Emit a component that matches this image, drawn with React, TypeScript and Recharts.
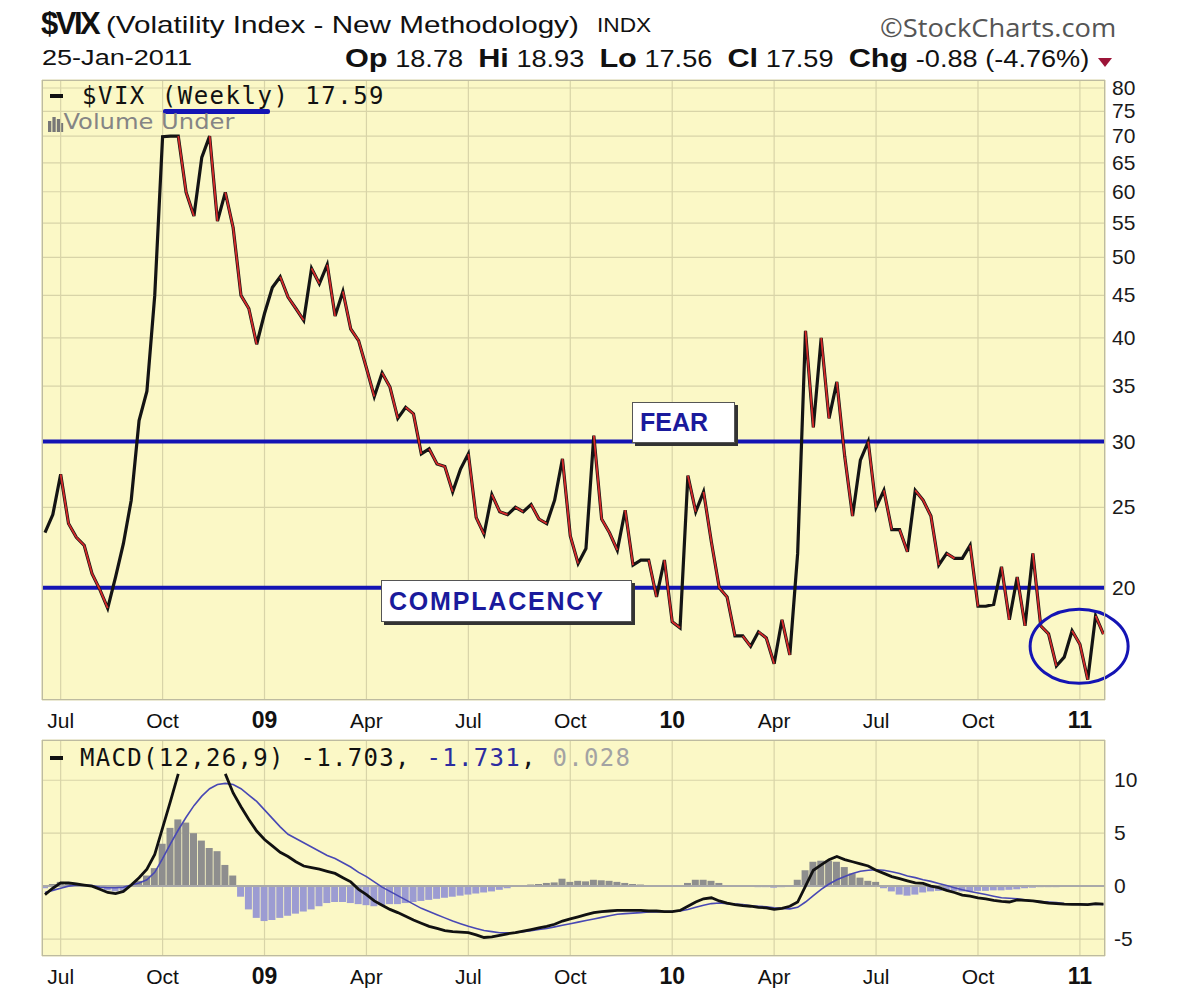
import React from 'react';
import {
  ComposedChart,
  Line,
  Bar,
  Cell,
  XAxis,
  YAxis,
  CartesianGrid,
  ReferenceLine,
  ReferenceDot,
} from 'recharts';

// weekly closes, week ending 27-Jun-2008 .. 25-Jan-2011 (index 0..135)
const vixClose = [
  23.3, 24.5, 27.4, 23.9, 23.0, 22.5, 20.8, 19.9, 18.9, 20.6,
  22.6, 25.5, 31.8, 34.5, 45.0, 69.9, 70.0, 70.0, 59.9, 56.1,
  66.0, 70.0, 55.3, 59.9, 54.3, 45.0, 43.4, 39.3, 42.8, 46.0,
  47.4, 44.8, 43.4, 42.0, 48.5, 46.5, 49.0, 42.5, 45.5, 41.0,
  39.7, 36.8, 34.0, 36.3, 34.9, 32.0, 33.0, 32.4, 29.0, 29.4,
  28.2, 28.0, 26.1, 27.8, 29.0, 24.3, 23.2, 25.9, 24.7, 24.5,
  25.0, 24.7, 25.2, 24.2, 23.9, 25.5, 28.6, 23.1, 21.4, 22.3,
  30.5, 24.2, 23.3, 22.2, 24.8, 21.3, 21.6, 21.6, 19.5, 21.6,
  18.2, 17.9, 27.3, 24.7, 26.1, 22.7, 20.0, 19.5, 17.5, 17.5,
  17.0, 17.7, 17.4, 16.2, 18.3, 16.6, 22.0, 40.8, 31.2, 40.0,
  32.0, 35.4, 28.8, 24.4, 28.5, 30.0, 25.0, 26.2, 23.5, 23.5,
  22.1, 26.2, 25.5, 24.4, 21.3, 22.0, 21.7, 21.7, 22.5, 19.0,
  19.0, 19.1, 21.2, 18.3, 20.6, 18.0, 22.0, 18.0, 17.6, 16.1,
  16.5, 17.75, 17.1, 15.5, 18.5, 17.59,
];

// MACD(12,26,9) line; null where it runs behind the legend at the top
const macdLine = [
  -0.8, -0.2, 0.3, 0.3, 0.2, 0.1, 0.0, -0.3, -0.6, -0.7,
  -0.5, 0.1, 0.8, 1.6, 3.0, 5.5, 8.0, 10.6, null, null,
  null, null, null, 10.6, 8.8, 7.5, 6.3, 5.2, 4.4, 3.8,
  3.2, 2.8, 2.3, 1.9, 1.75, 1.6, 1.4, 1.2, 0.8, 0.4,
  -0.3, -0.8, -1.4, -1.8, -2.2, -2.5, -2.85, -3.2, -3.5, -3.8,
  -4.0, -4.2, -4.3, -4.35, -4.4, -4.6, -4.85, -4.8, -4.65, -4.5,
  -4.4, -4.25, -4.1, -3.95, -3.8, -3.6, -3.3, -3.1, -2.9, -2.7,
  -2.5, -2.4, -2.35, -2.3, -2.3, -2.3, -2.3, -2.35, -2.35, -2.4,
  -2.4, -2.3, -1.9, -1.5, -1.2, -1.1, -1.4, -1.6, -1.75, -1.85,
  -1.9, -2.0, -2.05, -2.2, -2.1, -1.9, -1.5, 0.0, 1.5, 2.0,
  2.5, 2.8, 2.5, 2.3, 2.1, 1.9, 1.5, 1.2, 0.9, 0.7,
  0.5, 0.3, 0.25, 0.0, -0.15, -0.4, -0.6, -0.85, -0.95, -1.1,
  -1.2, -1.35, -1.45, -1.5, -1.3, -1.35, -1.4, -1.5, -1.6, -1.65,
  -1.7, -1.72, -1.72, -1.75, -1.65, -1.7,
];

const signalLine = [
  -0.6, -0.4, -0.2, 0.0, 0.1, 0.1, 0.05, -0.1, -0.15, -0.15,
  -0.1, 0.1, 0.3, 0.6, 1.3, 2.6, 4.0, 5.3, 6.5, 7.6,
  8.5, 9.2, 9.6, 9.7, 9.6, 9.2, 8.6, 8.0, 7.2, 6.4,
  5.6, 4.9, 4.5, 4.1, 3.7, 3.3, 2.9, 2.6, 2.2, 1.8,
  1.3, 0.9, 0.4, -0.1, -0.5, -0.9, -1.3, -1.7, -2.1, -2.4,
  -2.7, -3.0, -3.3, -3.55, -3.8, -4.0, -4.2, -4.3, -4.4, -4.4,
  -4.4, -4.3, -4.2, -4.1, -4.0, -3.85, -3.7, -3.55, -3.4, -3.25,
  -3.1, -2.95, -2.8, -2.65, -2.6, -2.55, -2.5, -2.45, -2.45, -2.4,
  -2.4, -2.35, -2.2, -2.0, -1.8, -1.65, -1.6, -1.65, -1.7, -1.75,
  -1.85, -1.9, -1.95, -2.05, -2.1, -2.15, -2.0, -1.5, -0.9, -0.3,
  0.2, 0.6, 0.9, 1.2, 1.4, 1.5, 1.55, 1.5, 1.35, 1.2,
  0.95, 0.8, 0.6, 0.45, 0.25, 0.05, -0.15, -0.35, -0.5, -0.65,
  -0.8, -0.95, -1.1, -1.15, -1.2, -1.3, -1.4, -1.45, -1.5, -1.55,
  -1.65, -1.7, -1.72, -1.74, -1.73, -1.73,
];

const macdHist = [
  -0.2, 0.2, 0.4, 0.3, 0.1, 0.0, -0.05, -0.2, -0.4, -0.5,
  -0.4, 0.0, 0.5, 1.0, 1.7, 4.0, 5.5, 6.3, 6.0, 5.0,
  4.3, 3.6, 3.3, 2.0, 1.0, -1.0, -2.2, -3.0, -3.3, -3.2,
  -3.0, -2.8, -2.6, -2.4, -2.2, -1.9, -1.6, -1.5, -1.5, -1.6,
  -1.7, -1.8, -1.9, -1.8, -1.7, -1.7, -1.6, -1.5, -1.4, -1.3,
  -1.2, -1.1, -1.0, -0.9, -0.8, -0.7, -0.6, -0.5, -0.35, -0.2,
  -0.05, 0.1, 0.15, 0.2, 0.3, 0.35, 0.7, 0.4, 0.5, 0.45,
  0.6, 0.55, 0.5, 0.4, 0.3, 0.2, 0.15, 0.1, 0.05, 0.0,
  0.0, 0.1, 0.3, 0.6, 0.6, 0.5, 0.3, 0.1, 0.0, -0.05,
  -0.05, -0.1, -0.1, -0.15, -0.1, 0.1, 0.6, 1.5, 2.3, 2.4,
  2.4, 2.3, 1.8, 1.2, 0.8, 0.5, 0.4, -0.2, -0.5, -0.8,
  -0.9, -0.8, -0.6, -0.5, -0.45, -0.45, -0.45, -0.5, -0.5, -0.45,
  -0.45, -0.4, -0.4, -0.35, -0.3, -0.2, -0.15, -0.1, -0.1, -0.1,
  -0.05, 0.0, 0.0, 0.0, 0.05, 0.03,
];

// week index of the first bar in each quarter
const quarterTicks = [2, 15, 28, 41, 54, 67, 80, 93, 106, 119, 132];
const quarterLabels = ['Jul', 'Oct', '09', 'Apr', 'Jul', 'Oct', '10', 'Apr', 'Jul', 'Oct', '11'];
const vixTicks = [20, 25, 30, 35, 40, 45, 50, 55, 60, 65, 70, 75, 80];
const macdTicks = [-5, 0, 5, 10];

const SANS = '"Liberation Sans", Arial, sans-serif';
const MONO = '"DejaVu Sans Mono", monospace';
const BLUE = '#1414b4';
const PLOT_BG = '#fbf8c6';
const GRID = '#d8d4a8';

// price line is black on up weeks and red on down weeks;
// the down segments go into three series so they never join up
const vixRows = vixClose.map((v, i) => {
  const row: any = { i, vix: v, red0: null, red1: null, red2: null };
  return row;
});
vixClose.forEach((v, i) => {
  if (i < vixClose.length - 1 && vixClose[i + 1] < v) {
    const key = 'red' + (i % 3);
    vixRows[i][key] = v;
    vixRows[i + 1][key] = vixClose[i + 1];
  }
});

const macdRows = macdLine.map((m, i) => ({
  i,
  macd: m,
  signal: signalLine[i],
  hist: macdHist[i],
}));

const QuarterTick = (props: any) => {
  const { x, y, payload } = props;
  const label = quarterLabels[quarterTicks.indexOf(payload.value)];
  const isYear = /^\d+$/.test(label || '');
  return (
    <text
      x={x}
      y={y}
      dy={20}
      textAnchor="middle"
      fontFamily={SANS}
      fontSize={isYear ? 23 : 21}
      fontWeight={isYear ? 'bold' : 'normal'}
      fill="#111"
    >
      {label}
    </text>
  );
};

const ValueTick = (props: any) => {
  const { x, y, payload } = props;
  return (
    <text x={x} y={y} dy={7} textAnchor="start" fontFamily={SANS} fontSize={21} fill="#1a1a1a">
      {payload.value}
    </text>
  );
};

const LabelBox = ({ left, top, width, height, text, size, spacing }: any) => (
  <div
    style={{
      position: 'absolute',
      left,
      top,
      width,
      height,
      background: '#fff',
      border: '1px solid #555',
      boxShadow: '3px 3px 0 #333',
      boxSizing: 'border-box',
      fontFamily: SANS,
      fontWeight: 'bold',
      fontSize: size,
      letterSpacing: spacing,
      color: '#1a1a9c',
      paddingLeft: 7,
      lineHeight: height - 2 + 'px',
      whiteSpace: 'nowrap',
    }}
  >
    {text}
  </div>
);

// the source picture is a little stretched sideways
const wide = (s: number) => ({ transform: `scaleX(${s})`, transformOrigin: 'left top' });

export default function App() {
  const xAxisCommon = {
    type: 'number' as const,
    dataKey: 'i',
    domain: [-0.38, 135.2],
    ticks: quarterTicks,
    interval: 0 as const,
    tick: <QuarterTick />,
    tickLine: false,
    axisLine: false,
    tickSize: 0,
    tickMargin: 8,
    allowDataOverflow: true,
  };

  return (
    <div
      style={{
        position: 'absolute',
        left: 0,
        top: 0,
        width: 1200,
        height: 999,
        background: '#fff',
        overflow: 'hidden',
        fontFamily: SANS,
        color: '#111',
      }}
    >
      {/* header */}
      <div style={{ position: 'absolute', left: 41, top: 6, fontSize: 31, fontWeight: 'bold', letterSpacing: -2.5 }}>
        $VIX
      </div>
      <div style={{ position: 'absolute', left: 106, top: 11, fontSize: 24, whiteSpace: 'nowrap', ...wide(1.235) }}>
        (Volatility Index - New Methodology)
      </div>
      <div style={{ position: 'absolute', left: 597, top: 13, fontSize: 21, ...wide(1.08) }}>INDX</div>
      <div style={{ position: 'absolute', left: 880, top: 9, fontSize: 26, color: '#555', fontFamily: '"Open Sans", sans-serif', whiteSpace: 'nowrap', ...wide(1.05) }}>
        ©StockCharts.com
      </div>
      <div style={{ position: 'absolute', left: 42, top: 45, fontSize: 22, whiteSpace: 'nowrap', ...wide(1.23) }}>25-Jan-2011</div>
      <div style={{ position: 'absolute', left: 345, top: 43, fontSize: 23, whiteSpace: 'pre', ...wide(1.18) }}>
        <b style={{ fontSize: 26 }}>Op</b> 18.78  <b style={{ fontSize: 26 }}>Hi</b> 18.93  <b style={{ fontSize: 26 }}>Lo</b> 17.56{'  '}
        <b style={{ fontSize: 26 }}>Cl</b> 17.59  <b style={{ fontSize: 26 }}>Chg</b> -0.88 (-4.76%)
      </div>
      <svg style={{ position: 'absolute', left: 1097, top: 57 }} width={16} height={12}>
        <polygon points="1,1 15,1 8,10" fill="#9c1438" />
      </svg>

      {/* price panel */}
      <div style={{ position: 'absolute', left: 0, top: 0 }}>
        <ComposedChart width={1200} height={745} data={vixRows} margin={{ top: 80, right: 0, left: 42, bottom: 5 }}>
          <CartesianGrid fill={PLOT_BG} stroke={GRID} strokeWidth={1.2} />
          <XAxis {...xAxisCommon} height={40} />
          <YAxis
            orientation="right"
            scale="log"
            domain={[14.65, 81.8]}
            ticks={vixTicks}
            interval={0}
            allowDataOverflow
            width={95}
            tick={<ValueTick />}
            tickLine={false}
            axisLine={false}
            tickSize={0}
            tickMargin={7}
          />
          <ReferenceLine y={30} stroke={BLUE} strokeWidth={4} />
          <ReferenceLine y={20} stroke={BLUE} strokeWidth={4} />
          <Line type="linear" dataKey="vix" stroke="#141414" strokeWidth={3.2} dot={false} isAnimationActive={false} />
          <Line type="linear" dataKey="red0" stroke="#d42a2a" strokeWidth={1.8} dot={false} isAnimationActive={false} />
          <Line type="linear" dataKey="red1" stroke="#d42a2a" strokeWidth={1.8} dot={false} isAnimationActive={false} />
          <Line type="linear" dataKey="red2" stroke="#d42a2a" strokeWidth={1.8} dot={false} isAnimationActive={false} />
          <ReferenceDot
            x={131.9}
            y={17}
            r={40}
            shape={(p: any) => (
              <ellipse cx={p.cx} cy={p.cy} rx={49} ry={37} fill="none" stroke={BLUE} strokeWidth={3} />
            )}
          />
        </ComposedChart>
      </div>

      {/* MACD panel */}
      <div style={{ position: 'absolute', left: 0, top: 700 }}>
        <ComposedChart width={1200} height={299} data={macdRows} margin={{ top: 40, right: 0, left: 42, bottom: 5 }}>
          <CartesianGrid fill={PLOT_BG} stroke={GRID} strokeWidth={1.2} />
          <XAxis {...xAxisCommon} height={38} />
          <YAxis
            orientation="right"
            domain={[-6.6, 13.8]}
            ticks={macdTicks}
            interval={0}
            allowDataOverflow
            width={95}
            tick={<ValueTick />}
            tickLine={false}
            axisLine={false}
            tickSize={0}
            tickMargin={9}
          />
          <ReferenceLine y={0} stroke="#a9a9a9" strokeWidth={2} />
          <Bar dataKey="hist" barSize={7} isAnimationActive={false}>
            {macdRows.map((r) => (
              <Cell key={r.i} fill={r.hist >= 0 ? '#8e8e8e' : '#9c9cd2'} />
            ))}
          </Bar>
          <Line type="linear" dataKey="signal" stroke="#4848b4" strokeWidth={1.6} dot={false} isAnimationActive={false} />
          <Line type="linear" dataKey="macd" stroke="#111" strokeWidth={2.8} dot={false} isAnimationActive={false} />
        </ComposedChart>
      </div>

      {/* panel borders */}
      <div style={{ position: 'absolute', left: 42, top: 80, width: 1063, height: 620, border: '1px solid #bdbba0', boxSizing: 'border-box' }} />
      <div style={{ position: 'absolute', left: 42, top: 740, width: 1063, height: 216, border: '1px solid #bdbba0', boxSizing: 'border-box' }} />

      {/* price legend */}
      <div style={{ position: 'absolute', left: 50, top: 94, width: 13, height: 4, background: '#111' }} />
      <div style={{ position: 'absolute', left: 82, top: 82, fontFamily: MONO, fontSize: 24, letterSpacing: 1.5, whiteSpace: 'pre' }}>
        $VIX (Weekly) 17.59
      </div>
      <div style={{ position: 'absolute', left: 163, top: 109, width: 107, height: 5, background: BLUE, borderRadius: 2 }} />
      <div style={{ position: 'absolute', left: 48, top: 110, color: '#858585', fontSize: 22, fontFamily: '"DejaVu Sans", sans-serif', whiteSpace: 'nowrap', lineHeight: '24px', ...wide(1.1) }}>
        <svg width={14} height={18} style={{ verticalAlign: 'top', marginTop: 4 }}>
          <rect x={0} y={7} width={3} height={11} fill="#777" />
          <rect x={4} y={3} width={3} height={15} fill="#777" />
          <rect x={8} y={5} width={3} height={13} fill="#777" />
          <rect x={12} y={9} width={2} height={9} fill="#777" />
        </svg>
        Volume Under
      </div>

      <LabelBox left={632} top={402} width={103} height={41} text="FEAR" size={25} spacing={0} />
      <LabelBox left={381} top={580} width={251} height={42} text="COMPLACENCY" size={25} spacing={1.8} />

      {/* MACD legend */}
      <div style={{ position: 'absolute', left: 50, top: 756, width: 13, height: 4, background: '#111' }} />
      <div style={{ position: 'absolute', left: 80, top: 744, fontFamily: MONO, fontSize: 24, letterSpacing: 1.3, whiteSpace: 'pre' }}>
        MACD(12,26,9) -1.703, <span style={{ color: '#2c2ca0' }}>-1.731</span>, <span style={{ color: '#a3a3a3' }}>0.028</span>
      </div>
    </div>
  );
}
